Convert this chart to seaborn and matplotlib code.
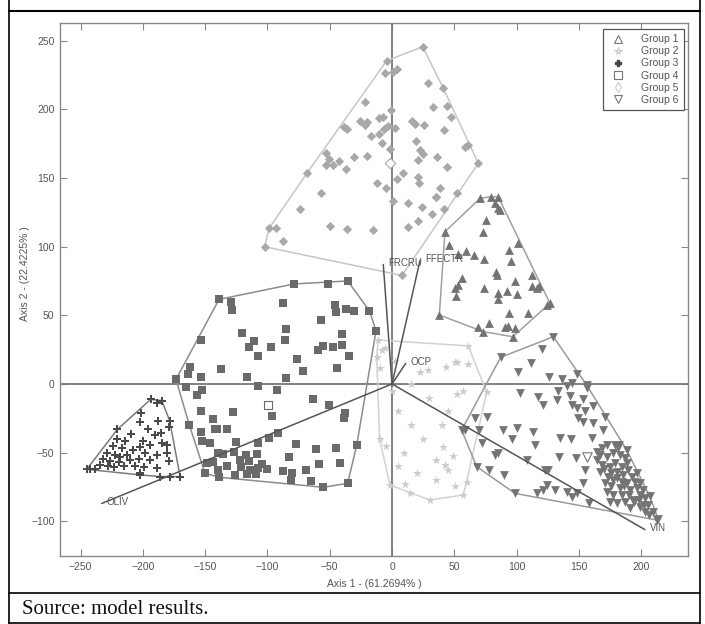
import numpy as np
import pandas as pd
import seaborn as sns
import matplotlib
matplotlib.use("Agg")
import matplotlib.pyplot as plt
from matplotlib.lines import Line2D

# --- datos (Axis 1, Axis 2) ---
g1_x = [70.6, 79.3, 85.2, 101.4, 126.8, 96.9, 73.3, 38.0, 42.5,
        82.7, 85.3, 86.7, 75.4, 73.3, 46.0, 53.2, 59.4, 66.0, 73.8, 94.2, 95.5, 83.5, 84.0,
        56.4, 98.7, 112.1, 53.2, 50.6, 51.4, 74.1, 92.0, 100.6, 85.3, 85.3, 112.1, 116.3,
        118.3, 124.1, 93.9, 109.4, 78.1, 90.7, 93.4, 98.7, 68.8]
g1_y = [135.1, 136.3, 136.3, 102.4, 58.7, 34.4, 38.1, 50.2, 110.8,
        131.5, 128.0, 126.7, 119.4, 110.8, 101.2, 94.6, 97.0, 93.6, 90.7, 97.5, 89.7, 81.7, 79.3,
        76.9, 75.2, 79.3, 72.4, 69.9, 63.8, 69.9, 67.4, 65.7, 65.9, 61.5, 71.3, 69.9,
        71.3, 57.5, 51.4, 51.4, 44.2, 41.7, 42.2, 40.5, 41.7]

g2_x = [-11.0, 61.2, 76.0, 57.2, 30.5, -1.6, -10.0,
        -8.3, -5.6, -12.3, -9.6, 2.4, 22.5, 29.2, 43.3, 51.9, 61.2, 50.6, 51.9, 57.2,
        41.2, 49.2, 42.5, 45.2, 59.9, 50.6, 10.4, 14.4,
        5.0, 15.0, 25.0, 10.0, 35.0, 20.0, 40.0, 30.0, 0.0, -5.0, 15.0, 45.0, 35.0, 5.0]
g2_y = [32.0, 27.7, -6.0, -80.8, -84.4, -73.5, -40.0,
        24.7, 25.9, 20.0, 11.5, 17.0, 9.0, 10.2, 12.6, 16.3, 14.6, 16.3, -7.3, -4.8,
        -45.6, -52.4, -59.0, -62.6, -71.1, -74.2, -72.8, -79.1,
        -20.0, -30.0, -40.0, -50.0, -55.0, -65.0, -30.0, -10.0, -5.0, -45.0, 0.0, -20.0, -70.0, -60.0]

g3_x = [-245.0, -220.4, -193.7, -184.8, -170.1, -202.0,
        -188.9, -201.3, -202.1, -187.9, -178.5, -179.1, -196.0, -190.6, -185.8, -209.4,
        -214.2, -220.9, -199.6, -194.3, -184.9, -180.3, -224.1, -216.9, -207.5, -202.1,
        -198.1, -188.7, -180.3, -228.9, -222.1, -218.1, -212.8, -231.6, -226.2, -219.5,
        -210.1, -203.4, -194.0, -179.3, -234.3, -227.6, -223.5, -215.5, -206.1, -199.4,
        -188.7, -238.3, -242.3, -185.9, -177.8, -202.1]
g3_y = [-62.1, -33.0, -11.2, -12.1, -67.4, -66.2,
        -14.1, -21.3, -27.7, -26.6, -26.6, -31.2, -33.0, -37.1, -35.4, -36.4,
        -41.3, -40.3, -41.3, -44.3, -43.2, -44.3, -45.1, -46.8, -48.0, -46.1,
        -50.5, -51.7, -50.5, -50.5, -51.7, -52.9, -51.7, -54.8, -55.8, -56.5,
        -55.3, -54.8, -55.3, -55.8, -59.0, -59.7, -60.2, -59.7, -59.7, -60.7,
        -61.4, -62.1, -62.1, -67.4, -67.4, -65.0]

g4_x = [-138.8, -78.7, -51.6, -35.6, -18.2, -12.8, -28.3, -35.6, -55.1, -150.1, -162.7, -173.4,
        -129.2, -128.7, -87.2, -45.4, -44.7, -37.0, -30.3, -56.9, -85.1, -120.1, -40.1, -153.3,
        -110.7, -85.6, -115.0, -97.2, -59.7, -55.1, -47.6, -40.4, -107.3, -34.2, -76.5, -162.1,
        -163.5, -137.5, -71.1, -43.8, -153.3, -116.1, -85.1, -165.6, -107.3, -152.7, -156.7,
        -92.5, -63.2, -50.6, -153.6, -127.8, -37.7, -96.6, -38.5, -143.9, -153.6, -142.1,
        -140.3, -132.8, -152.2, -146.0, -125.2, -98.4, -91.2, -107.3, -77.3, -61.0, -45.1,
        -139.4, -135.4, -126.6, -117.3, -108.2, -82.5, -148.7, -143.4, -121.9, -114.6, -104.4,
        -58.6, -41.4, -139.4, -132.2, -121.1, -113.9, -107.3, -100.5, -87.7, -80.5, -69.0,
        -138.8, -126.2, -116.1, -109.4, -81.3, -65.3]
g4_y = [61.6, 72.8, 72.8, 75.0, 53.4, 38.8, -44.4, -72.3, -75.2, -65.0, -29.8, 3.4,
        59.5, 53.8, 58.7, 57.5, 52.6, 54.3, 53.4, 46.6, 40.0, 37.4, 36.1, 32.0,
        31.3, 31.8, 26.7, 27.2, 24.7, 27.7, 26.7, 28.4, 20.4, 20.4, 17.9, 12.6,
        7.3, 10.9, 9.2, 11.9, 5.4, 4.9, 4.6, -1.9, -1.2, -4.1, -7.7,
        -4.1, -10.9, -15.3, -19.4, -20.1, -20.9, -23.6, -24.8, -25.5, -34.7, -33.0,
        -33.0, -33.0, -41.3, -42.8, -42.0, -39.5, -35.4, -42.8, -44.0, -47.3, -46.4,
        -50.0, -51.0, -49.2, -51.7, -51.0, -52.9, -57.2, -56.5, -55.3, -55.8, -58.2,
        -58.2, -57.2, -62.6, -59.7, -60.2, -62.6, -61.4, -61.9, -63.1, -65.0, -62.6,
        -67.9, -66.4, -65.7, -65.7, -69.6, -70.6]

g5_x = [24.6, -4.3, 41.2, 69.3, 8.0, -102.2, -98.7,
        -5.6, 1.1, 3.7, 29.2, -21.7, -1.1, 32.6, 44.4, 47.6, -10.2, -7.0, -25.7, -20.3,
        -21.7, 16.3, 18.5, 25.7, -38.3, -35.9, -2.9, 2.4, -6.4, -10.4, -17.1, 41.8, 19.1,
        -8.3, 58.6, 61.3, -1.6, 22.5, 24.6, 21.1, -53.2, -50.6, -53.0, -47.2, -42.4, -30.6,
        -20.3, 36.4, -37.3, 44.4, -68.0, 9.0, 4.3, 21.1, 21.9, -12.1, -4.6, 38.6, 35.4,
        52.0, -57.2, 1.0, 12.5, 24.2, 41.8, 31.8, -73.8, 21.1, 13.1, -49.8, -36.4, -15.0,
        -93.1, -87.7, 35.3]
g5_y = [245.5, 235.3, 215.2, 160.6, 79.0, 99.9, 113.3,
        226.6, 227.3, 229.0, 218.8, 205.5, 199.4, 201.4, 202.3, 194.6, 193.4, 194.0, 191.6, 191.0,
        188.5, 191.6, 189.2, 188.5, 186.8, 185.4, 188.0, 186.5, 185.4, 182.0, 180.5, 184.9, 176.9,
        175.3, 172.7, 174.0, 170.8, 170.2, 167.1, 163.0, 168.4, 163.5, 159.4, 159.4, 162.5, 165.5,
        166.0, 165.2, 156.2, 157.6, 153.8, 153.8, 149.2, 150.9, 146.5, 146.5, 142.4, 143.0, 136.3,
        139.3, 138.8, 133.4, 131.4, 129.0, 127.3, 123.7, 127.1, 118.9, 114.5, 115.0, 112.6, 112.1,
        113.8, 104.1, 136.3]

g6_x = [129.5, 87.2, 55.9, 68.0, 98.7, 213.7, 156.2,
        120.1, 111.3, 101.4, 126.3, 136.2, 148.2, 144.2, 140.2, 156.2, 102.7, 133.5, 117.5,
        132.2, 142.9, 153.6, 121.5, 144.2, 148.2, 161.6, 154.9, 170.9, 149.5, 153.6, 161.6,
        169.6, 66.6, 76.0, 58.6, 70.1, 89.3, 100.0, 113.4, 72.0, 96.1, 114.8, 134.8, 143.7,
        160.3, 85.3, 82.6, 108.0, 122.8, 134.3, 147.7, 78.0, 90.2, 125.5, 154.9, 153.0, 124.1,
        121.5, 116.2, 131.0, 140.2, 144.2, 148.2, 158.3,
        178.9, 181.6, 177.6, 182.9, 186.9, 172.3, 166.9, 164.3, 168.3, 175.0, 179.0, 184.3,
        189.6, 180.3, 185.6, 192.3, 173.6, 177.6, 184.3, 188.3, 195.0, 196.3, 191.0, 182.9,
        172.3, 177.6, 184.3, 199.0, 203.0, 193.6, 186.9, 180.3, 175.0, 205.7, 199.0, 191.0,
        209.7, 203.0, 212.4, 188.3, 172.3, 168.3, 164.3, 182.0, 188.3, 196.3, 199.0, 201.7, 207.0,
        170.0, 175.5, 181.0, 186.0, 190.5, 194.0, 198.5, 202.5, 206.5, 176.0, 171.0, 167.0]
g6_y = [34.4, 19.4, -33.5, -60.2, -79.6, -98.5, -0.7,
        25.2, 15.5, 8.5, 5.3, 3.3, 7.3, 1.0, -1.5, -3.2, -6.8, -5.0, -9.2,
        -11.6, -8.4, -10.9, -15.3, -15.3, -17.7, -16.0, -19.4, -23.8, -25.1, -28.0, -28.5,
        -33.5, -25.0, -24.3, -33.5, -33.5, -33.5, -32.3, -35.2, -42.7, -40.3, -44.4, -39.5, -40.0,
        -39.5, -50.0, -51.7, -55.3, -62.6, -52.9, -54.1, -62.6, -66.2, -62.6, -62.6, -71.8, -73.5,
        -77.1, -79.6, -77.1, -78.4, -82.0, -79.1, -86.4,
        -44.3, -46.7, -50.4, -51.7, -54.1, -52.9, -51.7, -55.3, -58.9, -60.2, -57.8, -60.2,
        -62.6, -63.8, -66.2, -67.5, -67.5, -69.9, -71.1, -72.3, -71.1, -75.9, -77.1, -75.9,
        -78.4, -80.8, -80.8, -80.8, -83.2, -84.4, -85.7, -86.9, -85.7, -88.1, -89.3, -90.5,
        -92.9, -92.9, -99.0, -47.9, -44.3, -46.7, -49.2, -44.3, -57.8, -65.0, -72.3, -77.1, -81.9,
        -62.0, -64.5, -68.5, -74.0, -81.0, -86.0, -84.5, -88.0, -95.5, -74.5, -72.0, -64.0]

# centroides (marcadores huecos)
cent_group = ["Group 4", "Group 5", "Group 6"]
cent_x = [-99.7, -1.9, 156.2]
cent_y = [-15.1, 160.6, -53.5]

# variables (biplot)
var_names = ["FRCRU", "FFECTR", "OCP", "OLIV", "VIN"]
var_x = [-7.0, 22.5, 11.0, -233.0, 203.0]
var_y = [87.0, 90.0, 15.0, -87.0, -106.0]

groups = ["Group 1", "Group 2", "Group 3", "Group 4", "Group 5", "Group 6"]
all_x = [g1_x, g2_x, g3_x, g4_x, g5_x, g6_x]
all_y = [g1_y, g2_y, g3_y, g4_y, g5_y, g6_y]

df = pd.concat([pd.DataFrame({"Axis1": gx, "Axis2": gy, "Group": g})
                for g, gx, gy in zip(groups, all_x, all_y)], ignore_index=True)

palette = {"Group 1": "#737373", "Group 2": "#cbcbcb", "Group 3": "#4a4a4a",
           "Group 4": "#6a6a6a", "Group 5": "#a8a8a8", "Group 6": "#747474"}
hull_col = {"Group 1": "#a0a0a0", "Group 2": "#d2d2d2", "Group 3": "#7a7a7a",
            "Group 4": "#8c8c8c", "Group 5": "#c6c6c6", "Group 6": "#9a9a9a"}
markers = {"Group 1": "^", "Group 2": "*", "Group 3": "P",
           "Group 4": "s", "Group 5": "D", "Group 6": "v"}
sizes = {"Group 1": 40, "Group 2": 44, "Group 3": 34,
         "Group 4": 30, "Group 5": 22, "Group 6": 40}
leg_markers = {"Group 1": "^", "Group 2": "*", "Group 3": "P",
               "Group 4": "s", "Group 5": "d", "Group 6": "v"}


def convex_hull(px, py):
    pts = sorted(set(zip(px, py)))

    def cross(o, a, b):
        return (a[0] - o[0]) * (b[1] - o[1]) - (a[1] - o[1]) * (b[0] - o[0])
    lower, upper = [], []
    for p in pts:
        while len(lower) >= 2 and cross(lower[-2], lower[-1], p) <= 0:
            lower.pop()
        lower.append(p)
    for p in reversed(pts):
        while len(upper) >= 2 and cross(upper[-2], upper[-1], p) <= 0:
            upper.pop()
        upper.append(p)
    h = lower[:-1] + upper[:-1]
    h.append(h[0])
    return [p[0] for p in h], [p[1] for p in h]


sns.set_style("ticks")
plt.rcParams["font.family"] = ["Liberation Sans Narrow", "Liberation Sans", "DejaVu Sans"]

fig = plt.figure(figsize=(7.05, 6.24), dpi=100)
ax = fig.add_axes([0.0851, 0.109, 0.8908, 0.854])

ax.axhline(0, color="#777777", lw=1.3, zorder=1)
ax.axvline(0, color="#777777", lw=1.3, zorder=1)

for g, gx, gy in zip(groups, all_x, all_y):
    hx, hy = convex_hull(gx, gy)
    ax.plot(hx, hy, color=hull_col[g], lw=1.1, zorder=2)

for g in groups:
    sub = df[df["Group"] == g]
    sns.scatterplot(data=sub, x="Axis1", y="Axis2", color=palette[g], marker=markers[g],
                    s=sizes[g], linewidth=0, ax=ax, zorder=3, legend=False)

for g, cx, cy in zip(cent_group, cent_x, cent_y):
    ax.scatter(cx, cy, marker=markers[g], s=sizes[g] + 6, facecolor="white",
               edgecolor=palette[g], linewidth=0.8, zorder=4)

for name, vx, vy in zip(var_names, var_x, var_y):
    ax.plot([0, vx], [0, vy], color="#555555", lw=1.1, zorder=5)
    ax.text(vx + 4, vy + 1, name, fontsize=7, color="#555555", ha="left", va="center", zorder=6)

ax.set_xlim(-266.5, 237.6)
ax.set_ylim(-125.2, 262.7)
ax.set_xticks(range(-250, 201, 50))
ax.set_yticks(range(-100, 251, 50))
ax.tick_params(direction="in", length=5, width=0.8, colors="#888888",
               labelcolor="#555555", labelsize=7.5, top=True, right=True, pad=4)
for sp in ax.spines.values():
    sp.set_color("#888888")
    sp.set_linewidth(1.0)

ax.set_xlabel("Axis 1 - (61.2694% )", fontsize=7.5, color="#555555")
ax.set_ylabel("Axis 2 - (22.4225% )", fontsize=7.5, color="#555555")
ax.xaxis.set_label_coords(0.5, -0.043)
ax.yaxis.set_label_coords(-0.048, 0.53)

handles = []
for g in groups:
    if g == "Group 3":
        h = Line2D([], [], linestyle="none", marker="P", markersize=5,
                   markerfacecolor="#444444", markeredgecolor="#444444", label=g)
    else:
        h = Line2D([], [], linestyle="none", marker=leg_markers[g], markersize=5.5,
                   markerfacecolor="none",
                   markeredgecolor="#cccccc" if g in ("Group 2", "Group 5") else "#777777",
                   markeredgewidth=0.8, label=g)
    handles.append(h)
leg = ax.legend(handles=handles, loc="upper right", bbox_to_anchor=(0.9936, 0.9887),
                fontsize=7.5, frameon=True, fancybox=False, framealpha=1, borderpad=0.5,
                labelspacing=0.2, handletextpad=1.2, borderaxespad=0)
leg.get_frame().set_edgecolor("#555555")
leg.get_frame().set_linewidth(0.9)
for t in leg.get_texts():
    t.set_color("#555555")

# marco de la tabla
def fline(x0, y0, x1, y1, lw=1.2):
    fig.add_artist(Line2D([x0 / 705, x1 / 705], [1 - y0 / 624, 1 - y1 / 624],
                          color="black", lw=lw))

fline(9, 0, 9, 624)
fline(700, 0, 700, 624)
fline(9, 11, 700, 11, 1.5)
fline(9, 593, 700, 593, 1.2)
fline(9, 623, 700, 623, 1.2)

fig.text(22 / 705, 1 - 609 / 624, "Source: model results.", fontsize=15,
         family=["Liberation Serif", "DejaVu Serif"], ha="left", va="center", color="#111111")

fig.savefig("out.png", dpi=100)
